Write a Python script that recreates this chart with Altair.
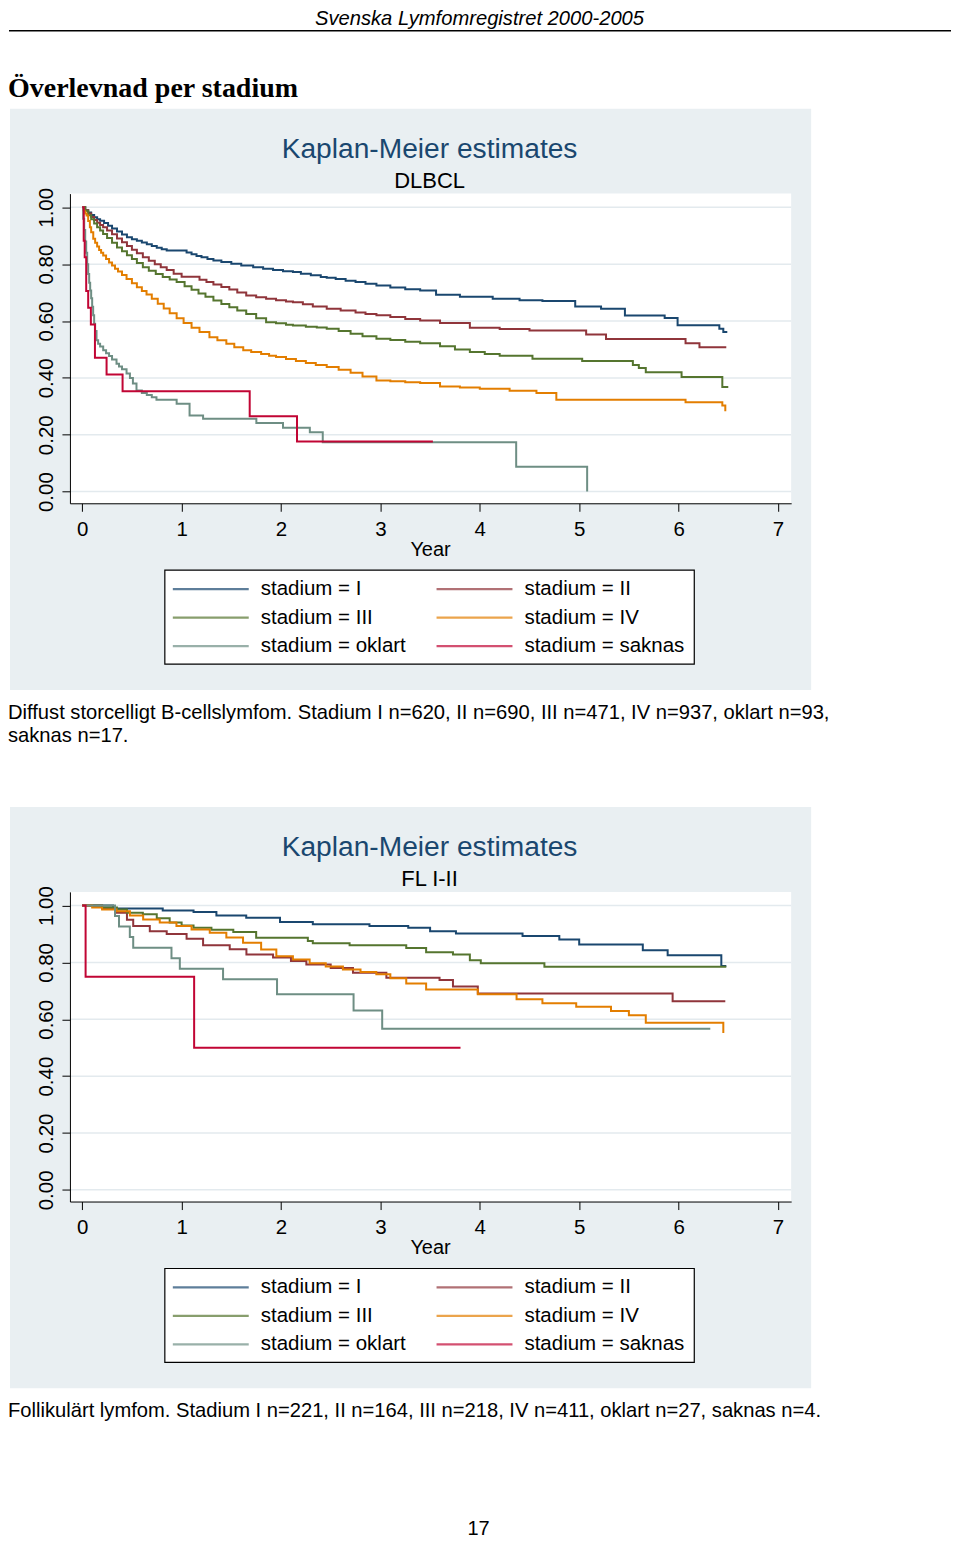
import altair as alt
import pandas as pd

FONT = "Liberation Sans, Arial, Helvetica, sans-serif"
SERIF = "Liberation Serif, Times New Roman, serif"

STAGES = ["I", "II", "III", "IV", "oklart", "saknas"]
LEGEND_LABELS = ["stadium = I", "stadium = II", "stadium = III",
                 "stadium = IV", "stadium = oklart", "stadium = saknas"]
LEGEND_COL = [0, 1, 0, 1, 0, 1]
LEGEND_ROW = [0, 0, 1, 1, 2, 2]
COLORS = ["#1a476f", "#90353b", "#55752f", "#e37e00", "#6e8e84", "#c10534"]

YEAR_TICKS = [0, 1, 2, 3, 4, 5, 6, 7]
SURV_TICKS = [0.0, 0.2, 0.4, 0.6, 0.8, 1.0]

# ---------------- DLBCL ----------------
dl_I_t = [0, 0.03, 0.06, 0.09, 0.12, 0.15, 0.18, 0.22, 0.26, 0.30, 0.35, 0.40, 0.45, 0.50, 0.55, 0.60, 0.65, 0.70,
          0.75, 0.80, 0.85, 1.05, 1.10, 1.15, 1.20, 1.26, 1.32, 1.40, 1.50, 1.60, 1.72, 1.82, 1.92, 2.02, 2.12, 2.20,
          2.30, 2.40, 2.46, 2.55, 2.65, 2.75, 2.85, 2.96, 3.10, 3.25, 3.40, 3.56, 3.80, 4.13, 4.40, 4.63, 4.96, 5.22,
          5.46, 5.86, 5.99, 6.41, 6.45, 6.49]
dl_I_s = [1.0, 0.990, 0.982, 0.973, 0.965, 0.958, 0.953, 0.945, 0.935, 0.925, 0.915, 0.904, 0.895, 0.888, 0.882,
          0.876, 0.870, 0.864, 0.858, 0.852, 0.848, 0.841, 0.835, 0.829, 0.824, 0.818, 0.813, 0.808, 0.801, 0.795,
          0.789, 0.784, 0.779, 0.775, 0.772, 0.766, 0.761, 0.755, 0.752, 0.748, 0.742, 0.737, 0.731, 0.725, 0.718,
          0.712, 0.707, 0.692, 0.685, 0.678, 0.673, 0.670, 0.651, 0.643, 0.619, 0.611, 0.585, 0.573, 0.561, 0.561]
dl_II_t = [0, 0.03, 0.06, 0.09, 0.12, 0.15, 0.18, 0.21, 0.25, 0.30, 0.35, 0.40, 0.45, 0.50, 0.55, 0.61, 0.67, 0.73,
           0.79, 0.85, 0.92, 1.00, 1.18, 1.25, 1.32, 1.40, 1.48, 1.56, 1.65, 1.75, 1.85, 1.95, 2.05, 2.12, 2.22, 2.32,
           2.46, 2.60, 2.75, 2.85, 2.96, 3.10, 3.25, 3.40, 3.60, 3.90, 4.20, 4.50, 5.07, 5.27, 6.07, 6.21, 6.48]
dl_II_s = [1.0, 0.990, 0.978, 0.966, 0.955, 0.946, 0.938, 0.930, 0.918, 0.905, 0.890, 0.877, 0.864, 0.851, 0.838,
           0.824, 0.812, 0.800, 0.789, 0.779, 0.766, 0.756, 0.745, 0.737, 0.728, 0.720, 0.711, 0.700, 0.690, 0.684,
           0.678, 0.673, 0.669, 0.666, 0.659, 0.651, 0.643, 0.637, 0.630, 0.625, 0.620, 0.614, 0.607, 0.602, 0.593,
           0.576, 0.572, 0.567, 0.553, 0.537, 0.522, 0.508, 0.508]
dl_III_t = [0, 0.03, 0.06, 0.09, 0.12, 0.15, 0.18, 0.21, 0.25, 0.30, 0.35, 0.40, 0.45, 0.50, 0.55, 0.61, 0.67, 0.74,
            0.81, 0.88, 0.95, 1.03, 1.10, 1.17, 1.24, 1.32, 1.40, 1.48, 1.56, 1.65, 1.75, 1.85, 1.95, 2.05, 2.12, 2.25,
            2.36, 2.46, 2.58, 2.70, 2.82, 2.96, 3.10, 3.25, 3.40, 3.60, 3.75, 3.90, 4.05, 4.20, 4.53, 5.03, 5.54, 5.60,
            5.67, 6.03, 6.44, 6.50]
dl_III_s = [1.0, 0.988, 0.972, 0.958, 0.943, 0.930, 0.918, 0.906, 0.892, 0.875, 0.859, 0.845, 0.831, 0.818, 0.804,
            0.789, 0.777, 0.765, 0.755, 0.746, 0.737, 0.722, 0.710, 0.697, 0.685, 0.672, 0.660, 0.648, 0.637, 0.625,
            0.610, 0.596, 0.592, 0.587, 0.584, 0.580, 0.577, 0.573, 0.565, 0.555, 0.546, 0.538, 0.533, 0.527, 0.522,
            0.511, 0.500, 0.491, 0.484, 0.478, 0.467, 0.459, 0.445, 0.435, 0.420, 0.403, 0.368, 0.368]
dl_IV_t = [0, 0.01, 0.02, 0.03, 0.044, 0.06, 0.077, 0.09, 0.111, 0.13, 0.15, 0.17, 0.19, 0.211, 0.24, 0.27, 0.30,
           0.33, 0.36, 0.40, 0.446, 0.50, 0.55, 0.60, 0.647, 0.70, 0.76, 0.82, 0.88, 0.95, 1.02, 1.10, 1.18, 1.28,
           1.36, 1.45, 1.53, 1.62, 1.70, 1.80, 1.88, 1.95, 2.05, 2.15, 2.25, 2.35, 2.46, 2.58, 2.70, 2.82, 2.96, 3.10,
           3.25, 3.40, 3.60, 3.80, 4.00, 4.30, 4.57, 4.77, 6.07, 6.44, 6.47, 6.48]
dl_IV_s = [1.0, 0.990, 0.985, 0.978, 0.971, 0.952, 0.930, 0.912, 0.889, 0.875, 0.862, 0.850, 0.840, 0.830, 0.818,
           0.806, 0.795, 0.784, 0.774, 0.762, 0.748, 0.733, 0.719, 0.706, 0.693, 0.678, 0.661, 0.644, 0.627, 0.610,
           0.593, 0.576, 0.561, 0.543, 0.532, 0.520, 0.508, 0.497, 0.491, 0.484, 0.478, 0.473, 0.466, 0.459, 0.452,
           0.445, 0.438, 0.429, 0.418, 0.405, 0.391, 0.388, 0.385, 0.382, 0.370, 0.366, 0.362, 0.355, 0.347, 0.323,
           0.314, 0.303, 0.286, 0.286]
dl_ok_t = [0, 0.01, 0.02, 0.03, 0.04, 0.05, 0.06, 0.07, 0.08, 0.09, 0.10, 0.11, 0.12, 0.13, 0.144, 0.16, 0.18, 0.211,
           0.24, 0.27, 0.30, 0.345, 0.37, 0.40, 0.446, 0.48, 0.51, 0.546, 0.60, 0.65, 0.70, 0.747, 0.95, 1.08, 1.216,
           1.752, 2.02, 2.29, 2.42, 4.366, 5.08]
dl_ok_s = [1.0, 0.960, 0.920, 0.880, 0.840, 0.800, 0.765, 0.735, 0.707, 0.680, 0.650, 0.620, 0.590, 0.565, 0.532,
           0.520, 0.510, 0.497, 0.487, 0.477, 0.465, 0.450, 0.440, 0.430, 0.415, 0.400, 0.380, 0.356, 0.347, 0.340,
           0.332, 0.323, 0.309, 0.268, 0.256, 0.241, 0.225, 0.209, 0.174, 0.087, 0.0]
dl_sa_t = [0, 0.015, 0.025, 0.04, 0.06, 0.087, 0.128, 0.245, 0.406, 1.685, 2.161, 3.528]
dl_sa_s = [1.0, 0.882, 0.824, 0.706, 0.647, 0.588, 0.471, 0.412, 0.353, 0.265, 0.176, 0.176]

# ---------------- FL I-II ----------------
fl_I_t = [0, 0.31, 0.81, 1.12, 1.35, 1.65, 1.99, 2.32, 2.89, 3.28, 3.50, 3.76, 4.43, 4.80, 5.00, 5.64, 5.89, 6.43,
          6.48]
fl_I_s = [1.0, 0.990, 0.983, 0.977, 0.965, 0.957, 0.942, 0.934, 0.928, 0.922, 0.910, 0.902, 0.893, 0.881, 0.863,
          0.843, 0.825, 0.787, 0.787]
fl_II_t = [0, 0.20, 0.345, 0.45, 0.513, 0.68, 0.85, 1.05, 1.216, 1.484, 1.652, 1.92, 2.10, 2.255, 2.50, 2.724, 3.06,
           3.595, 3.73, 3.98, 5.94, 6.47]
fl_II_s = [1.0, 0.990, 0.975, 0.950, 0.928, 0.910, 0.900, 0.883, 0.860, 0.846, 0.828, 0.817, 0.805, 0.793, 0.780,
           0.764, 0.746, 0.738, 0.715, 0.691, 0.663, 0.663]
fl_III_t = [0, 0.20, 0.35, 0.45, 0.61, 0.75, 0.88, 1.00, 1.12, 1.30, 1.52, 1.75, 2.27, 2.32, 2.69, 3.26, 3.46, 3.73,
            3.90, 4.01, 4.65, 6.48]
fl_III_s = [1.0, 0.993, 0.986, 0.975, 0.969, 0.955, 0.940, 0.930, 0.922, 0.915, 0.907, 0.887, 0.875, 0.867, 0.860,
            0.851, 0.836, 0.828, 0.808, 0.797, 0.785, 0.785]
fl_IV_t = [0, 0.10, 0.20, 0.345, 0.48, 0.613, 0.78, 0.948, 1.10, 1.283, 1.45, 1.618, 1.80, 1.953, 2.12, 2.288, 2.45,
           2.623, 2.80, 2.959, 3.10, 3.26, 3.46, 3.98, 4.37, 4.63, 4.97, 5.32, 5.50, 5.67, 6.45, 6.46]
fl_IV_s = [1.0, 0.993, 0.986, 0.980, 0.965, 0.951, 0.940, 0.928, 0.916, 0.904, 0.888, 0.869, 0.845, 0.822, 0.810,
           0.797, 0.786, 0.775, 0.766, 0.758, 0.744, 0.726, 0.705, 0.688, 0.670, 0.656, 0.644, 0.629, 0.614, 0.588,
           0.555, 0.555]
fl_ok_t = [0, 0.33, 0.37, 0.479, 0.513, 0.898, 0.982, 1.417, 1.96, 2.73, 3.018, 6.319]
fl_ok_s = [1.0, 0.963, 0.926, 0.889, 0.852, 0.815, 0.778, 0.741, 0.688, 0.631, 0.567, 0.567]
fl_sa_t = [0, 0.034, 1.126, 3.806]
fl_sa_s = [1.0, 0.75, 0.50, 0.50]

HEADER = "Svenska Lymfomregistret 2000-2005"
PAGE_TITLE = "Överlevnad per stadium"
KM_TITLE = "Kaplan-Meier estimates"
SUB1 = "DLBCL"
SUB2 = "FL I-II"
CAP1 = ["Diffust storcelligt B-cellslymfom. Stadium I n=620, II n=690, III n=471, IV n=937, oklart n=93,",
        "saknas n=17."]
CAP2 = ["Follikulärt lymfom. Stadium I n=221, II n=164, III n=218, IV n=411, oklart n=27, saknas n=4."]
PAGE_NO = "17"

# ---------------- layout / style ----------------
W, H = 722, 310
BG = "#e9eff2"
GRID = "#e3eaee"
NAVY = "#1a476f"
FS = 20.5

ONE = pd.DataFrame({"k": [0]})


def km_frame(series):
    rows = []
    for stage, (ts, ss) in zip(STAGES, series):
        for a, b in zip(ts, ss):
            rows.append({"stage": stage, "year": a, "surv": b})
    return pd.DataFrame(rows)


dl_df = km_frame([(dl_I_t, dl_I_s), (dl_II_t, dl_II_s), (dl_III_t, dl_III_s),
                  (dl_IV_t, dl_IV_s), (dl_ok_t, dl_ok_s), (dl_sa_t, dl_sa_s)])
fl_df = km_frame([(fl_I_t, fl_I_s), (fl_II_t, fl_II_s), (fl_III_t, fl_III_s),
                  (fl_IV_t, fl_IV_s), (fl_ok_t, fl_ok_s), (fl_sa_t, fl_sa_s)])
legend_df = pd.DataFrame({"stage": STAGES, "label": LEGEND_LABELS,
                          "lcol": LEGEND_COL, "lrow": LEGEND_ROW})
grid_df = pd.DataFrame({"g": SURV_TICKS})

color = alt.Color("stage:N", scale=alt.Scale(domain=STAGES, range=COLORS), legend=None)
xscale = alt.Scale(domain=[-0.1236, 7.1327], nice=False, zero=False)
yscale = alt.Scale(domain=[-0.0411, 1.0481], nice=False, zero=False)

xaxis = alt.Axis(values=YEAR_TICKS, format="d", title=None, grid=False, domainColor="black",
                 domainWidth=1, tickColor="black", tickSize=8, tickWidth=1, labelFont=FONT,
                 labelFontSize=FS, labelColor="black", labelPadding=8, labelFlush=False,
                 labelOverlap=False, zindex=1)
yaxis = alt.Axis(values=SURV_TICKS, format=".2f", title=None, grid=False, domainColor="black",
                 domainWidth=1, tickColor="black", tickSize=8, tickWidth=1, labelFont=FONT,
                 labelFontSize=FS, labelColor="black", labelPadding=9, labelAngle=270,
                 labelAlign="center", labelBaseline="alphabetic", labelFlush=False,
                 labelOverlap=False, zindex=1)


def rect(x, x2, y, y2, fill, stroke=None, sw=1.0):
    kw = dict(fill=fill)
    if stroke:
        kw.update(stroke=stroke, strokeWidth=sw)
    return alt.Chart(ONE).mark_rect(**kw).encode(
        x=alt.value(x), x2=alt.value(x2), y=alt.value(y), y2=alt.value(y2))


def text(txt, x, y, size, align="left", font=FONT, col="black", weight="normal", style="normal"):
    return alt.Chart(ONE).mark_text(text=txt, align=align, baseline="alphabetic", font=font,
                                    fontSize=size, color=col, fontWeight=weight,
                                    fontStyle=style).encode(x=alt.value(x), y=alt.value(y))


def panel(df, subtitle, caption, first):
    blue = rect(-60, 742, -85, 497, BG)
    white = rect(0, W, 0, H, "white")
    grid = alt.Chart(grid_df).mark_rule(color=GRID, strokeWidth=1.5).encode(
        y=alt.Y("g:Q", scale=yscale, axis=yaxis), x=alt.value(0), x2=alt.value(W))
    curves = alt.Chart(df).mark_line(interpolate="step-after", strokeWidth=2).encode(
        x=alt.X("year:Q", scale=xscale, axis=xaxis),
        y=alt.Y("surv:Q", scale=yscale, axis=yaxis),
        color=color)
    inner = alt.layer(blue, white, grid, curves)

    lx = alt.X("lcol:Q", scale=alt.Scale(domain=[0, 1], range=[141, 405]), axis=None)
    ly = alt.Y("lrow:Q", scale=alt.Scale(domain=[0, 2], range=[396, 453]), axis=None)
    box = rect(95, 625, 377, 471, "white", "black", 1.2)
    ticks = alt.Chart(legend_df).mark_tick(orient="horizontal", size=76, thickness=2.2).encode(
        x=lx, y=ly, color=color)
    labels = alt.Chart(legend_df).mark_text(align="left", baseline="middle", dx=50, font=FONT,
                                            fontSize=FS, color="black").encode(
        x=lx, y=ly, text="label:N")
    legend = alt.layer(box, ticks, labels)

    decor = [
        text(KM_TITLE, 360, -36, 28.2, align="center", col=NAVY),
        text(subtitle, 360, -6, 22, align="center"),
        text("Year", 361, 363, 20, align="center"),
    ]
    for i, line in enumerate(caption):
        decor.append(text(line, -62, 526 + 23 * i, 20.2))
    if first:
        decor.append(alt.Chart(ONE).mark_rule(opacity=0, strokeWidth=0).encode(
            x=alt.value(-62), x2=alt.value(-62), y=alt.value(-185), y2=alt.value(-185)))
        decor.append(text(HEADER, 410, -169, 20.2, align="center", style="italic"))
        decor.append(alt.Chart(ONE).mark_rule(color="black", strokeWidth=1.5).encode(
            x=alt.value(-61), x2=alt.value(882), y=alt.value(-163)))
        decor.append(text(PAGE_TITLE, -62, -97, 28, font=SERIF, weight="bold"))
    else:
        decor.append(text(PAGE_NO, 409, 644, 20, align="center"))

    return alt.layer(inner, legend, *decor).resolve_scale(
        x="independent", y="independent").properties(width=W, height=H)


chart = alt.vconcat(panel(dl_df, SUB1, CAP1, True), panel(fl_df, SUB2, CAP2, False),
                    spacing=389, bounds="flush").properties(padding=0).configure_view(stroke=None)

chart.save("out.html", embed_options={"renderer": "svg", "actions": False})
